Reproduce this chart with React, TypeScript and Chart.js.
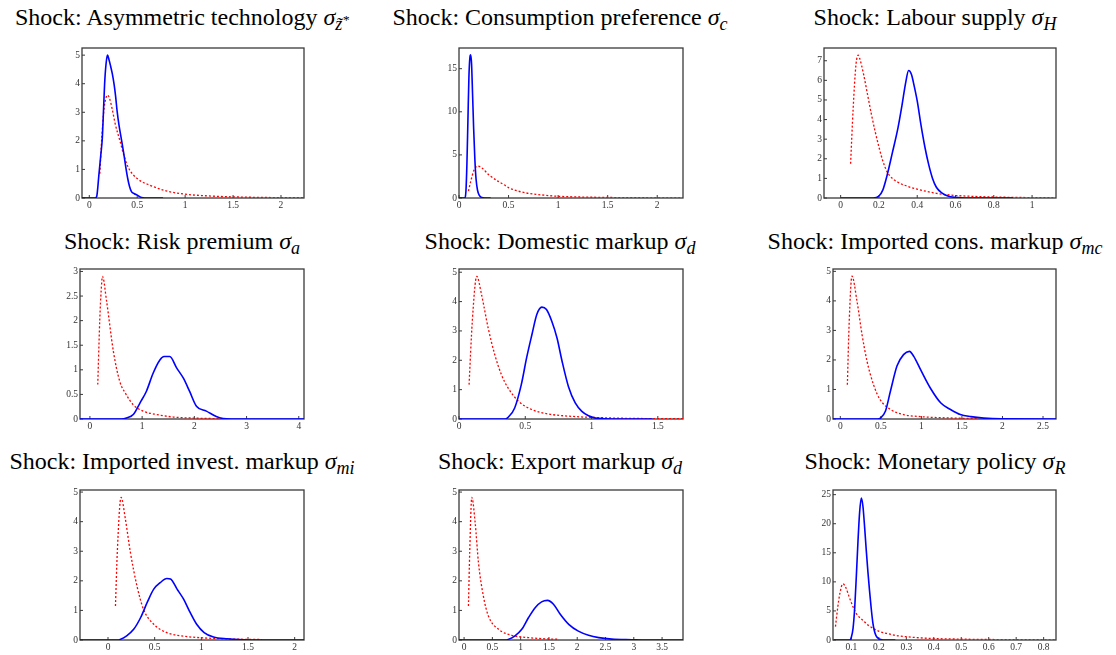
import React, { useEffect, useRef } from "react";
import { Chart, registerables } from "chart.js";

Chart.register(...registerables);

// ---------- Data ----------
// Panel 1: Asymmetric technology
const p1PostX = [-0.076, 0.06, 0.077, 0.1, 0.12, 0.136, 0.15, 0.16, 0.175, 0.19, 0.205, 0.22, 0.24, 0.26, 0.275, 0.29, 0.31, 0.338, 0.36, 0.38, 0.4, 0.42, 0.44, 0.47, 0.5, 0.53, 0.56, 0.6, 0.77];
const p1PostY = [0, 0, 0.05, 0.8, 1.5, 2.1, 3.2, 4.0, 4.7, 5.0, 4.85, 4.65, 4.35, 3.95, 3.55, 3.05, 2.55, 2.0, 1.55, 1.1, 0.7, 0.4, 0.22, 0.15, 0.1, 0.04, 0.01, 0, 0];
const p1PriorX = [0.11, 0.125, 0.14, 0.155, 0.17, 0.19, 0.21, 0.24, 0.27, 0.32, 0.36, 0.41, 0.5, 0.63, 0.8, 0.98, 1.2, 1.5, 1.8, 2.24];
const p1PriorY = [0.85, 1.8, 2.6, 3.15, 3.45, 3.6, 3.5, 3.1, 2.6, 2.0, 1.5, 1.05, 0.68, 0.45, 0.25, 0.14, 0.08, 0.04, 0.02, 0.01];
const p1XTicks = [0, 0.5, 1, 1.5, 2];
const p1YTicks = [0, 1, 2, 3, 4, 5];

// Panel 2: Consumption preference
const p2PostX = [0, 0.06, 0.07, 0.08, 0.09, 0.1, 0.11, 0.118, 0.127, 0.137, 0.148, 0.16, 0.172, 0.187, 0.205, 0.23, 0.26, 0.32];
const p2PostY = [0, 0, 0.8, 4, 9, 14, 16.3, 16.6, 15.5, 12, 8, 4.5, 2.2, 0.9, 0.3, 0.05, 0, 0];
const p2PriorX = [0.095, 0.12, 0.15, 0.19, 0.23, 0.3, 0.4, 0.46, 0.5, 0.63, 0.8, 1.0, 1.3, 1.6, 2.0, 2.26];
const p2PriorY = [0.8, 2.0, 3.2, 3.7, 3.5, 2.7, 1.9, 1.5, 1.2, 0.7, 0.4, 0.2, 0.1, 0.05, 0.02, 0.01];
const p2XTicks = [0, 0.5, 1, 1.5, 2];
const p2YTicks = [0, 5, 10, 15];

// Panel 3: Labour supply
const p3PostX = [0, 0.17, 0.2, 0.22, 0.245, 0.27, 0.3, 0.32, 0.34, 0.355, 0.37, 0.38, 0.4, 0.42, 0.44, 0.46, 0.48, 0.5, 0.53, 0.56, 0.6, 0.65, 0.9];
const p3PostY = [0, 0, 0.1, 0.4, 1.25, 2.3, 3.6, 4.7, 5.9, 6.5, 6.3, 5.9, 4.95, 3.7, 2.6, 1.7, 1.0, 0.55, 0.25, 0.1, 0.03, 0, 0];
const p3PriorX = [0.052, 0.065, 0.08, 0.092, 0.1, 0.12, 0.14, 0.16, 0.18, 0.2, 0.22, 0.243, 0.27, 0.3, 0.36, 0.4, 0.5, 0.6, 0.7, 0.8, 1.0, 1.125];
const p3PriorY = [1.75, 4.5, 6.8, 7.28, 7.1, 6.3, 5.3, 4.3, 3.4, 2.6, 1.9, 1.33, 1.0, 0.8, 0.56, 0.45, 0.24, 0.13, 0.08, 0.05, 0.02, 0.01];
const p3XTicks = [0, 0.2, 0.4, 0.6, 0.8, 1];
const p3YTicks = [0, 1, 2, 3, 4, 5, 6, 7];

// Panel 4: Risk premium
const p4PostX = [-0.19, 0.6, 0.7, 0.83, 0.96, 1.08, 1.21, 1.34, 1.42, 1.53, 1.66, 1.79, 1.91, 2.04, 2.23, 2.42, 2.55, 2.7, 4.1];
const p4PostY = [0, 0, 0.02, 0.09, 0.33, 0.56, 0.93, 1.2, 1.27, 1.27, 1.04, 0.83, 0.56, 0.26, 0.16, 0.05, 0.01, 0, 0];
const p4PriorX = [0.15, 0.19, 0.215, 0.24, 0.32, 0.45, 0.57, 0.7, 0.83, 1.02, 1.28, 1.6, 2.1, 2.6];
const p4PriorY = [0.7, 2.05, 2.6, 2.9, 2.39, 1.37, 0.77, 0.49, 0.29, 0.16, 0.09, 0.04, 0.015, 0.005];
const p4XTicks = [0, 1, 2, 3, 4];
const p4YTicks = [0, 0.5, 1, 1.5, 2, 2.5, 3];

// Panel 5: Domestic markup
const p5PostX = [0, 0.35, 0.373, 0.42, 0.47, 0.51, 0.55, 0.587, 0.625, 0.66, 0.7, 0.74, 0.776, 0.826, 0.877, 0.927, 0.977, 1.03, 1.1, 1.2, 1.46];
const p5PostY = [0, 0, 0.07, 0.375, 1.17, 2.08, 2.87, 3.56, 3.81, 3.73, 3.33, 2.75, 2.0, 1.1, 0.55, 0.26, 0.11, 0.03, 0.01, 0, 0];
const p5PriorX = [0.076, 0.1, 0.134, 0.17, 0.22, 0.27, 0.32, 0.37, 0.45, 0.55, 0.675, 0.85, 1.1, 1.4, 1.69];
const p5PriorY = [1.17, 3.3, 4.86, 4.24, 3.1, 2.19, 1.51, 1.06, 0.6, 0.32, 0.17, 0.09, 0.04, 0.015, 0.008];
const p5XTicks = [0, 0.5, 1, 1.5];
const p5YTicks = [0, 1, 2, 3, 4, 5];

// Panel 6: Imported cons. markup
const p6PostX = [-0.09, 0.46, 0.494, 0.556, 0.618, 0.7, 0.78, 0.853, 0.906, 0.99, 1.11, 1.24, 1.36, 1.48, 1.61, 1.77, 1.98, 2.66];
const p6PostY = [0, 0, 0.03, 0.26, 0.94, 1.8, 2.18, 2.29, 2.12, 1.67, 1.05, 0.54, 0.32, 0.15, 0.08, 0.03, 0.005, 0];
const p6PriorX = [0.087, 0.11, 0.144, 0.206, 0.268, 0.33, 0.41, 0.49, 0.62, 0.78, 0.99, 1.28, 1.7];
const p6PriorY = [1.16, 3.3, 4.84, 3.99, 2.86, 1.95, 1.16, 0.66, 0.32, 0.15, 0.08, 0.04, 0.015];
const p6XTicks = [0, 0.5, 1, 1.5, 2, 2.5];
const p6YTicks = [0, 1, 2, 3, 4, 5];

// Panel 7: Imported invest. markup
const p7PostX = [-0.3, 0.1, 0.13, 0.2, 0.275, 0.35, 0.42, 0.49, 0.56, 0.63, 0.67, 0.74, 0.81, 0.88, 0.95, 1.03, 1.13, 1.28, 1.45, 1.6, 2.1];
const p7PostY = [0, 0, 0.02, 0.14, 0.36, 0.76, 1.27, 1.72, 1.94, 2.08, 2.06, 1.72, 1.38, 0.93, 0.53, 0.25, 0.1, 0.04, 0.01, 0, 0];
const p7PriorX = [0.08, 0.1, 0.14, 0.186, 0.24, 0.31, 0.38, 0.49, 0.63, 0.81, 1.03, 1.35, 1.65];
const p7PriorY = [1.15, 3.0, 4.82, 4.09, 2.96, 1.83, 1.04, 0.53, 0.25, 0.13, 0.07, 0.03, 0.015];
const p7XTicks = [0, 0.5, 1, 1.5, 2];
const p7YTicks = [0, 1, 2, 3, 4, 5];

// Panel 8: Export markup
const p8PostX = [-0.09, 0.72, 0.78, 0.9, 1.02, 1.14, 1.26, 1.37, 1.475, 1.58, 1.7, 1.85, 2.02, 2.2, 2.38, 2.61, 2.97, 3.2, 3.87];
const p8PostY = [0, 0, 0.02, 0.14, 0.36, 0.76, 1.1, 1.29, 1.34, 1.21, 0.87, 0.53, 0.3, 0.16, 0.08, 0.03, 0.01, 0, 0];
const p8PriorX = [0.077, 0.1, 0.136, 0.195, 0.254, 0.34, 0.43, 0.61, 0.84, 1.14, 1.55, 1.65];
const p8PriorY = [1.15, 3.0, 4.82, 3.98, 2.62, 1.49, 0.81, 0.36, 0.16, 0.08, 0.03, 0.025];
const p8XTicks = [0, 0.5, 1, 1.5, 2, 2.5, 3, 3.5];
const p8YTicks = [0, 1, 2, 3, 4, 5];

// Panel 9: Monetary policy
const p9PostX = [0.036, 0.094, 0.1, 0.106, 0.112, 0.118, 0.124, 0.13, 0.136, 0.142, 0.148, 0.154, 0.16, 0.166, 0.172, 0.178, 0.184, 0.19, 0.2, 0.21, 0.22, 0.26];
const p9PostY = [0, 0, 0.5, 2, 5.5, 11, 17, 22, 24.4, 23, 19.5, 15.5, 11.8, 8.5, 5.5, 3.0, 1.5, 0.7, 0.2, 0.05, 0, 0];
const p9PriorX = [0.042, 0.05, 0.058, 0.069, 0.08, 0.092, 0.106, 0.12, 0.142, 0.16, 0.179, 0.2, 0.227, 0.26, 0.3, 0.375, 0.5, 0.65, 0.845];
const p9PriorY = [2.3, 5.5, 8.0, 9.66, 9.0, 7.4, 5.7, 4.4, 3.4, 2.6, 2.0, 1.5, 1.15, 0.8, 0.57, 0.3, 0.15, 0.07, 0.03];
const p9XTicks = [0.1, 0.2, 0.3, 0.4, 0.5, 0.6, 0.7, 0.8];
const p9YTicks = [0, 5, 10, 15, 20, 25];

// Axis ranges
const xMins = [-0.076, 0, -0.087, -0.19, 0, -0.09, -0.3, -0.09, 0.033];
const xMaxs = [2.24, 2.26, 1.125, 4.1, 1.69, 2.66, 2.1, 3.87, 0.845];
const yMaxs = [5.25, 17.4, 7.65, 3.05, 5.11, 5.08, 5.07, 5.07, 25.8];

const titles = [
  "Shock: Asymmetric technology ",
  "Shock: Consumption preference ",
  "Shock: Labour supply ",
  "Shock: Risk premium ",
  "Shock: Domestic markup ",
  "Shock: Imported cons. markup ",
  "Shock: Export markup ",
  "Shock: Monetary policy ",
];
const subscripts = ["z\u0303", "c", "H", "a", "d", "mc", "mi", "d", "R"];
const titleTexts = [
  "Shock: Asymmetric technology ",
  "Shock: Consumption preference ",
  "Shock: Labour supply ",
  "Shock: Risk premium ",
  "Shock: Domestic markup ",
  "Shock: Imported cons. markup ",
  "Shock: Imported invest. markup ",
  "Shock: Export markup ",
  "Shock: Monetary policy ",
];

// ---------- Layout (plot frames in page pixels) ----------
const frames: [number, number, number, number][] = [
  [82, 48, 304, 198], [459, 48, 683, 198], [824, 48, 1056, 198],
  [80, 269, 304, 419], [459, 269, 683, 419], [833, 269, 1056, 419],
  [80, 490, 304, 640], [459, 490, 683, 640], [833, 490, 1056, 640],
];
const titleCX = [182, 560, 935];
const titleCY = [17, 241, 461];

const Y_W = 28;
const X_H = 15;
const PAD_T = 10;
const PAD_R = 12;

const FONT = "'Liberation Serif', 'Times New Roman', Times, serif";

const panelData = [
  [p1PostX, p1PostY, p1PriorX, p1PriorY, p1XTicks, p1YTicks],
  [p2PostX, p2PostY, p2PriorX, p2PriorY, p2XTicks, p2YTicks],
  [p3PostX, p3PostY, p3PriorX, p3PriorY, p3XTicks, p3YTicks],
  [p4PostX, p4PostY, p4PriorX, p4PriorY, p4XTicks, p4YTicks],
  [p5PostX, p5PostY, p5PriorX, p5PriorY, p5XTicks, p5YTicks],
  [p6PostX, p6PostY, p6PriorX, p6PriorY, p6XTicks, p6YTicks],
  [p7PostX, p7PostY, p7PriorX, p7PriorY, p7XTicks, p7YTicks],
  [p8PostX, p8PostY, p8PriorX, p8PriorY, p8XTicks, p8YTicks],
  [p9PostX, p9PostY, p9PriorX, p9PriorY, p9XTicks, p9YTicks],
];

const framePlugin = {
  id: "matlabFrame",
  beforeDatasetsDraw(chart: any) {
    const { ctx, chartArea: a, scales } = chart;
    ctx.save();
    ctx.strokeStyle = "#3a3a3a";
    ctx.lineWidth = 1.3;
    ctx.strokeRect(a.left, a.top, a.right - a.left, a.bottom - a.top);
    ctx.beginPath();
    ctx.lineWidth = 1;
    for (const t of scales.x.ticks) {
      const px = scales.x.getPixelForValue(t.value);
      ctx.moveTo(px, a.bottom);
      ctx.lineTo(px, a.bottom - 3);
    }
    for (const t of scales.y.ticks) {
      const py = scales.y.getPixelForValue(t.value);
      ctx.moveTo(a.left, py);
      ctx.lineTo(a.left + 3, py);
    }
    ctx.stroke();
    ctx.restore();
  },
};

function Panel({ idx }: { idx: number }) {
  const ref = useRef<HTMLCanvasElement>(null);
  const [L, T, R, B] = frames[idx];
  const w = R - L + Y_W + PAD_R;
  const h = B - T + PAD_T + X_H;
  useEffect(() => {
    const [postX, postY, priorX, priorY, xTicks, yTicks] = panelData[idx];
    const chart = new Chart(ref.current as HTMLCanvasElement, {
      type: "line",
      data: {
        datasets: [
          {
            data: postX.map((x, i) => ({ x, y: postY[i] })),
            borderColor: "#0000ff",
            borderWidth: 1.6,
            pointRadius: 0,
            fill: false,
            cubicInterpolationMode: "monotone",
          },
          {
            data: priorX.map((x, i) => ({ x, y: priorY[i] })),
            borderColor: "#ff0000",
            borderWidth: 1.3,
            borderDash: [2, 2],
            pointRadius: 0,
            fill: false,
            cubicInterpolationMode: "monotone",
          },
        ],
      } as any,
      options: {
        animation: false,
        responsive: false,
        devicePixelRatio: 1,
        events: [],
        layout: { padding: { top: PAD_T, right: PAD_R, left: 0, bottom: 0 } },
        plugins: {
          legend: { display: false },
          tooltip: { enabled: false },
          title: { display: false },
        },
        scales: {
          x: {
            type: "linear",
            min: xMins[idx],
            max: xMaxs[idx],
            grid: { display: false, drawTicks: false },
            border: { display: false },
            ticks: {
              padding: 2,
              color: "#333",
              font: { family: FONT, size: 9.5 },
              maxRotation: 0,
              autoSkip: false,
              callback: (v: any) => String(v),
            },
            afterBuildTicks: (s: any) => {
              s.ticks = (xTicks as number[]).map((v) => ({ value: v }));
            },
            afterFit: (s: any) => {
              s.height = X_H;
            },
          },
          y: {
            type: "linear",
            min: 0,
            max: yMaxs[idx],
            grid: { display: false, drawTicks: false },
            border: { display: false },
            ticks: {
              padding: 2,
              color: "#333",
              font: { family: FONT, size: 9.5 },
              autoSkip: false,
              callback: (v: any) => String(v),
            },
            afterBuildTicks: (s: any) => {
              s.ticks = (yTicks as number[]).map((v) => ({ value: v }));
            },
            afterFit: (s: any) => {
              s.width = Y_W;
            },
          },
        },
      } as any,
      plugins: [framePlugin],
    });
    return () => chart.destroy();
  }, [idx]);
  return (
    <canvas
      ref={ref}
      width={w}
      height={h}
      style={{ position: "absolute", left: L - Y_W, top: T - PAD_T, width: w, height: h }}
    />
  );
}

function Title({ idx }: { idx: number }) {
  const cx = titleCX[idx % 3];
  const cy = titleCY[Math.floor(idx / 3)];
  const sub = subscripts[idx];
  return (
    <div
      style={{
        position: "absolute",
        left: cx - 220,
        width: 440,
        top: cy - 15,
        height: 30,
        lineHeight: "30px",
        textAlign: "center",
        fontFamily: FONT,
        fontSize: 24,
        color: "#000",
        whiteSpace: "nowrap",
      }}
    >
      {titleTexts[idx]}
      <span style={{ fontStyle: "italic" }}>σ</span>
      <span style={{ fontStyle: "italic", fontSize: "0.75em", position: "relative", top: "0.3em" }}>
        {sub}
        {idx === 0 ? (
          <span style={{ fontSize: "0.75em", position: "relative", top: "-0.5em" }}>*</span>
        ) : null}
      </span>
    </div>
  );
}

export default function App() {
  void titles;
  return (
    <div
      style={{
        position: "absolute",
        left: 0,
        top: 0,
        width: 1116,
        height: 655,
        overflow: "hidden",
        background: "#fff",
      }}
    >
      {frames.map((_, i) => (
        <Title key={"t" + i} idx={i} />
      ))}
      {frames.map((_, i) => (
        <Panel key={"p" + i} idx={i} />
      ))}
    </div>
  );
}
